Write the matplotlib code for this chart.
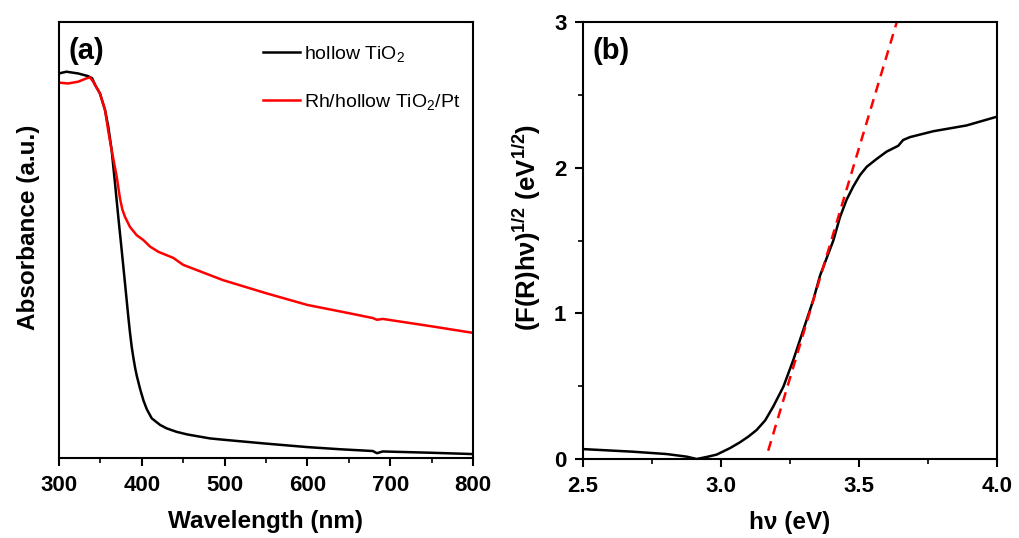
import matplotlib
matplotlib.use("Agg")
import matplotlib.pyplot as plt
from matplotlib.ticker import MultipleLocator

plt.rcParams['font.family'] = ['Liberation Sans', 'DejaVu Sans']
plt.rcParams['mathtext.fontset'] = 'custom'
plt.rcParams['mathtext.rm'] = 'Liberation Sans'
plt.rcParams['mathtext.bf'] = 'Liberation Sans:bold'
plt.rcParams['mathtext.default'] = 'regular'

# ---- panel (a) data: wavelength (nm) and absorbance (a.u.) ----
wl_hollow = [300, 309, 323, 335, 340, 343.5, 349.5, 355.6, 359.5, 363.6, 367.6, 371.6,
             375.7, 379.7, 383.7, 385.7, 387.8, 390, 392, 394, 398, 402, 406, 412, 422,
             430, 442, 455, 482, 498, 550, 600, 640, 679, 684, 691, 750, 800]
abs_hollow = [0.882, 0.886, 0.882, 0.876, 0.871, 0.856, 0.836, 0.798, 0.760, 0.706,
              0.631, 0.553, 0.477, 0.401, 0.324, 0.288, 0.255, 0.228, 0.206, 0.188,
              0.158, 0.132, 0.112, 0.091, 0.076, 0.068, 0.060, 0.054, 0.045, 0.042,
              0.033, 0.025, 0.020, 0.016, 0.011, 0.015, 0.012, 0.009]

wl_rh = [300, 311, 323, 333.5, 337.4, 341.4, 343.5, 349.5, 355.6, 359.5, 363.6, 369.7,
         373.7, 376.5, 379.7, 385.7, 393.8, 401.8, 409.9, 419.9, 438, 450, 498, 550, 600,
         640, 679, 684, 691, 750, 800]
abs_rh = [0.861, 0.859, 0.863, 0.871, 0.873, 0.863, 0.856, 0.836, 0.798, 0.750, 0.706,
          0.645, 0.595, 0.570, 0.553, 0.530, 0.511, 0.500, 0.485, 0.473, 0.459, 0.443,
          0.408, 0.378, 0.351, 0.336, 0.321, 0.317, 0.319, 0.302, 0.287]

# ---- panel (b) data: photon energy (eV) and (F(R)hv)^1/2 ----
hv = [2.5, 2.682, 2.803, 2.876, 2.912, 2.948, 2.984, 3.008, 3.033, 3.069, 3.10, 3.129,
      3.16, 3.189, 3.226, 3.262, 3.298, 3.334, 3.359, 3.383, 3.407, 3.431, 3.455, 3.479,
      3.504, 3.528, 3.564, 3.600, 3.642, 3.660, 3.685, 3.769, 3.89, 4.0]
frhv = [0.068, 0.05, 0.034, 0.016, 0.0, 0.014, 0.030, 0.052, 0.075, 0.115, 0.155, 0.199,
        0.265, 0.359, 0.496, 0.68, 0.885, 1.09, 1.26, 1.38, 1.50, 1.66, 1.78, 1.87,
        1.95, 2.006, 2.06, 2.11, 2.15, 2.19, 2.21, 2.25, 2.29, 2.35]

fit_hv = [3.171, 3.637]
fit_y = [0.057, 3.0]

fig = plt.figure(figsize=(10.19, 5.38), dpi=100)
axa = fig.add_axes([59/1019, 1-458/538, 414/1019, 436/538])
axb = fig.add_axes([583/1019, 1-459/538, 414/1019, 437/538])

lw = 1.8
axa.plot(wl_hollow, abs_hollow, color='black', lw=lw, label='hollow TiO$_2$')
axa.plot(wl_rh, abs_rh, color='#ff0000', lw=lw, label='Rh/hollow TiO$_2$/Pt')
axa.set_xlim(300, 800)
axa.set_ylim(0, 1)
axa.set_yticks([])
axa.xaxis.set_major_locator(MultipleLocator(100))
axa.xaxis.set_minor_locator(MultipleLocator(50))
axa.set_xlabel('Wavelength (nm)', fontsize=17.5, fontweight='bold', labelpad=10)
axa.set_ylabel('Absorbance (a.u.)', fontsize=17.5, fontweight='bold', labelpad=14)
axa.yaxis.label.set_y(0.53)
axa.text(0.022, 0.965, '(a)', transform=axa.transAxes, fontsize=21, fontweight='bold',
         va='top', ha='left')
leg = axa.legend(loc='upper left', bbox_to_anchor=(0.45, 0.99), frameon=False,
                 fontsize=14, handlelength=1.9, handletextpad=0.2, labelspacing=1.45)

axb.plot(hv, frhv, color='black', lw=lw)
axb.plot(fit_hv, fit_y, color='#ff0000', lw=lw, ls=(0, (4, 2.8)))
axb.set_xlim(2.5, 4.0)
axb.set_ylim(0, 3)
axb.xaxis.set_major_locator(MultipleLocator(0.5))
axb.xaxis.set_minor_locator(MultipleLocator(0.25))
axb.yaxis.set_major_locator(MultipleLocator(1))
axb.yaxis.set_minor_locator(MultipleLocator(0.5))
axb.set_xticks([2.5, 3.0, 3.5, 4.0])
axb.set_xticklabels(['2.5', '3.0', '3.5', '4.0'])
axb.set_xlabel('hν (eV)', fontsize=17.5, fontweight='bold', labelpad=10)
axb.set_ylabel('(F(R)hν)$^{\\mathbf{1/2}}$ (eV$^{\\mathbf{1/2}}$)', fontsize=18.5,
               fontweight='bold', labelpad=8)
axb.yaxis.label.set_y(0.53)
axb.text(0.022, 0.965, '(b)', transform=axb.transAxes, fontsize=21, fontweight='bold',
         va='top', ha='left')

for ax in (axa, axb):
    for s in ax.spines.values():
        s.set_linewidth(1.5)
    ax.tick_params(which='major', direction='out', length=6, width=1.5,
                   labelsize=16, pad=6)
    ax.tick_params(which='minor', direction='out', length=3.5, width=1.2)
    for lab in ax.get_xticklabels() + ax.get_yticklabels():
        lab.set_fontweight('bold')

fig.savefig('out.png', dpi=100)
